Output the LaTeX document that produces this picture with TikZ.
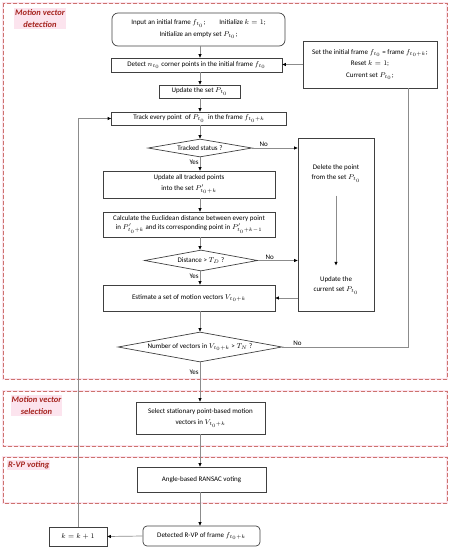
\documentclass[tikz,border=0pt]{standalone}
\usepackage{fontspec}
\setmainfont{Carlito}
\usetikzlibrary{shapes.geometric,arrows.meta}
\definecolor{boxgray}{RGB}{64,64,64}
\definecolor{linegray}{RGB}{140,140,140}
\definecolor{dashred}{RGB}{205,115,110}
\definecolor{dashpink}{RGB}{252,228,238}
\definecolor{labred}{RGB}{165,35,30}
\tikzset{
  txt/.style={font=\fontsize{7}{8.5}\selectfont, align=center, inner sep=1pt},
  box/.style={txt, draw=boxgray, line width=0.7pt},
  rbox/.style={box, rounded corners=6pt},
  dia/.style={txt, draw=boxgray, line width=0.7pt, diamond, inner sep=0pt},
  arr/.style={draw=linegray, line width=0.7pt, -{Triangle[length=3.5pt,width=3pt,color=black]}},
  ln/.style={draw=linegray, line width=0.7pt},
  region/.style={draw=dashred, line width=0.8pt, dash pattern=on 4pt off 2pt,
     preaction={draw=dashpink, line width=2.5pt, solid}},
  lab/.style={font=\fontsize{8.5}{12.5}\selectfont\bfseries\itshape, text=labred, align=center, inner sep=1pt, fill=dashpink},
  yn/.style={font=\fontsize{7}{8}\selectfont, inner sep=1pt}
}
\begin{document}
\begin{tikzpicture}[x=1pt,y=-1pt]
\useasboundingbox (0,0) rectangle (451,550);
% regions
\draw[region] (3,3) rectangle (447,379);
\draw[region] (3,391) rectangle (447,446);
\draw[region] (3,457) rectangle (447,503);
\node[lab] (L1) at (40,18.5) {Motion vector\\detection};
\node[lab] (L2) at (36.5,405.5) {Motion vector\\selection};
\node[lab, anchor=west] (L3) at (7,465) {R-VP voting};

% nodes
\node[rbox, minimum width=173pt, minimum height=33pt] (n1) at (198.5,29.5)
  {Input an initial frame $f_{t_0}$;\qquad Initialize $k=1$;\\[3pt] Initialize an empty set $P_{t_0}$;};
\node[box, minimum width=171pt, minimum height=14pt] (n2) at (196.5,65)
  {Detect $n_{t_0}$ corner points in the initial frame $f_{t_0}$};
\node[box, minimum width=81pt, minimum height=13pt] (n3) at (199.5,91.5)
  {Update the set $P_{t_0}$};
\node[box, minimum width=175pt, minimum height=13pt] (n4) at (199,118.5)
  {Track every point \ of $P_{t_0}$ \ in the frame $f_{t_0+k}$};
\node[dia, minimum width=104pt, minimum height=18pt, aspect=5.8] (d1) at (200,148)
  {Tracked status ?};
\node[box, minimum width=172pt, minimum height=27pt] (n6) at (189,184.5)
  {Update all tracked points\\[2pt] into the set $P'_{t_0+k}$};
\node[box, minimum width=172pt, minimum height=25pt] (n7) at (189,224.5)
  {Calculate the Euclidean distance between every point\\[1pt] in $P'_{t_0+k}$ and its corresponding point in $P'_{t_0+k-1}$};
\node[dia, minimum width=113pt, minimum height=21pt, aspect=5.4] (d2) at (201,260.5)
  {Distance > $T_D$ ?};
\node[box, minimum width=172pt, minimum height=26pt] (n9) at (189,298)
  {Estimate a set of motion vectors $V_{t_0+k}$};
\node[dia, minimum width=164pt, minimum height=30pt, aspect=5.4] (d3) at (200,347)
  {Number of vectors in $V_{t_0+k}$ > $T_N$ ?};
\node[box, minimum width=129pt, minimum height=32pt] (n11) at (200.5,418)
  {Select stationary point-based motion\\[3pt] vectors in $V_{t_0+k}$};
\node[box, minimum width=129pt, minimum height=25pt] (n12) at (201.5,479.5)
  {Angle-based RANSAC voting};
\node[rbox, rounded corners=4pt, minimum width=117pt, minimum height=20pt] (n13) at (201.5,536)
  {Detected R-VP of frame $f_{t_0+k}$};
\node[box, minimum width=58pt, minimum height=19pt] (n14) at (78,536.5)
  {$k=k+1$};
\node[box, minimum width=134pt, minimum height=47pt] (n15) at (370,64.5)
  {Set the initial frame $f_{t_0}$ = frame $f_{t_0+k}$;\\[3pt] Reset $k=1$;\\[3pt] Current set $P_{t_0}$;};
\node[box, minimum width=76pt, minimum height=173pt] (n16) at (336,224.5) {};
\node[txt] (t16a) at (336,173.5) {Delete the point\\[2pt] from the set $P_{t_0}$};
\node[txt] (t16b) at (336,285.5) {Update the\\[2pt] current set $P_{t_0}$};

\coordinate (cx) at (200,0);

% connectors
\draw[arr] (n1.south -| cx) -- (n2.north -| cx);
\draw[arr] (n2.south -| cx) -- (n3.north -| cx);
\draw[arr] (n3.south -| cx) -- (n4.north -| cx);
\draw[arr] (n4.south -| cx) -- (d1.north);
\draw[arr] (d1.south) -- node[yn, left, pos=0.4] {Yes} (n6.north -| cx);
\draw[arr] (n6.south -| cx) -- (n7.north -| cx);
\draw[arr] (n7.south -| cx) -- (d2.north -| cx);
\draw[arr] (d2.south -| cx) -- node[yn, left, pos=0.4] {Yes} (n9.north -| cx);
\draw[arr] (n9.south -| cx) -- (d3.north -| cx);
\draw[arr] (d3.south -| cx) -- node[yn, left, pos=0.25] {Yes} (n11.north -| cx);
\draw[arr] (n11.south -| cx) -- (n12.north -| cx);
\draw[arr] (n12.south -| cx) -- (n13.north -| cx);
\draw[arr] (n13.west) -- (n14.east);
\draw[arr] (n14.north) |- (n4.west);
\draw[arr] (d1.east) -- node[yn, above, pos=0.25] {No} (d1.east -| n16.west);
\draw[arr] (d2.east) -- node[yn, above, pos=0.3] {No} (d2.east -| n16.west);
\draw[arr] (n9.east -| n16.west) -- (n9.east);
\draw[arr] ([yshift=-12pt]t16a.south) -- ([yshift=10pt]t16b.north);
\draw[ln] (d3.east) -- node[yn, above, pos=0.12] {No} (408,347) -- ([xshift=38pt]n15.south);
\draw[arr] (n15.west) -- (n15.west -| n2.east);
\end{tikzpicture}
\end{document}
